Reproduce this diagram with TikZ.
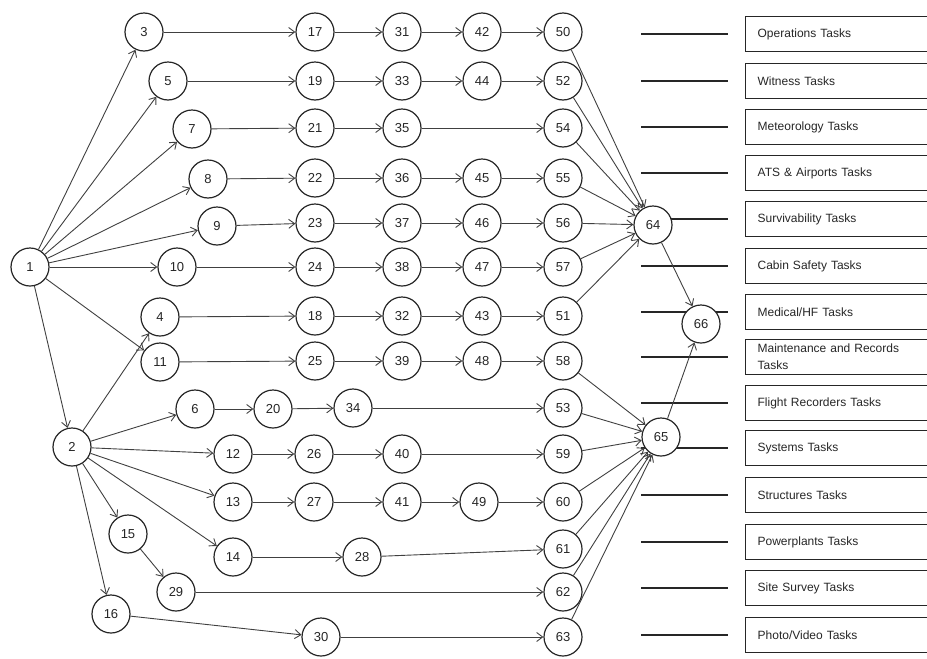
\documentclass[tikz,border=0pt]{standalone}
\usepackage{fontspec}
\setmainfont{Liberation Sans}
\usetikzlibrary{arrows.meta}
\begin{document}
\begin{tikzpicture}[x=1pt,y=-1pt,
  task/.style={circle, draw=black!85, line width=1.2pt, fill=white,
    minimum size=38pt, inner sep=0pt, text=black!85,
    font=\fontsize{13}{13}\selectfont},
  arr/.style={draw=black!75, line width=0.9pt,
    -{Straight Barb[length=6pt,width=9pt]}},
  taskbox/.style={draw=black!85, line width=1.3pt, anchor=west,
    minimum height=35pt, text width=176pt, inner xsep=12pt, align=left,
    text=black!85, font=\fontsize{12}{17}\selectfont},
  stub/.style={draw=black!85, line width=1.3pt}]
\useasboundingbox (0,0) rectangle (927,659);

% task group boxes with their lead lines
\foreach \y/\t [count=\i] in {34/{Operations Tasks}, 81/{Witness Tasks},
    127/{Meteorology Tasks}, 173/{ATS \& Airports Tasks},
    219/{Survivability Tasks}, 266/{Cabin Safety Tasks},
    312/{Medical/HF Tasks}, 357/{Maintenance and Records\\Tasks},
    403/{Flight Recorders Tasks}, 448/{Systems Tasks},
    495/{Structures Tasks}, 542/{Powerplants Tasks},
    588/{Site Survey Tasks}, 635/{Photo/Video Tasks}} {
  \node[taskbox] (b\i) at (745,\y) {\t};
  \draw[stub] ([xshift=-104pt]b\i.west) -- ([xshift=-17pt]b\i.west);
}

% activity nodes
\foreach \n/\x/\y in {
  1/30/267, 2/72/447,
  3/144/32, 5/168/81, 7/192/129, 8/208/179, 9/217/226, 10/177/267,
  4/160/317, 11/160/362, 6/195/409, 12/233/454, 13/233/502, 14/233/557,
  15/128/534, 16/111/614, 29/176/592, 20/273/409, 34/353/408,
  28/362/557, 30/321/637,
  17/315/32, 19/315/81, 21/315/128, 22/315/178, 23/315/223, 24/315/267,
  18/315/316, 25/315/361, 26/314/454, 27/314/502,
  31/402/32, 33/402/81, 35/402/128, 36/402/178, 37/402/223, 38/402/267,
  32/402/316, 39/402/361, 40/402/454, 41/402/502,
  42/482/32, 44/482/81, 45/482/178, 46/482/223, 47/482/267,
  43/482/316, 48/482/361, 49/479/502,
  50/563/32, 52/563/81, 54/563/128, 55/563/178, 56/563/223, 57/563/267,
  51/563/316, 58/563/361, 53/563/408, 59/563/454, 60/563/502,
  61/563/549, 62/563/592, 63/563/637,
  64/653/225, 65/661/437, 66/701/324} {
  \node[task] (n\n) at (\x,\y) {\n};
}

% precedence links
\foreach \a/\b in {
  1/3, 1/5, 1/7, 1/8, 1/9, 1/10, 1/11, 1/2,
  2/4, 2/6, 2/12, 2/13, 2/14, 2/15, 2/16,
  3/17, 17/31, 31/42, 42/50, 50/64,
  5/19, 19/33, 33/44, 44/52, 52/64,
  7/21, 21/35, 35/54, 54/64,
  8/22, 22/36, 36/45, 45/55, 55/64,
  9/23, 23/37, 37/46, 46/56, 56/64,
  10/24, 24/38, 38/47, 47/57, 57/64,
  4/18, 18/32, 32/43, 43/51, 51/64,
  11/25, 25/39, 39/48, 48/58, 58/65,
  6/20, 20/34, 34/53, 53/65,
  12/26, 26/40, 40/59, 59/65,
  13/27, 27/41, 41/49, 49/60, 60/65,
  14/28, 28/61, 61/65,
  15/29, 29/62, 62/65,
  16/30, 30/63, 63/65,
  64/66, 65/66} {
  \draw[arr] (n\a) -- (n\b);
}
\end{tikzpicture}
\end{document}
